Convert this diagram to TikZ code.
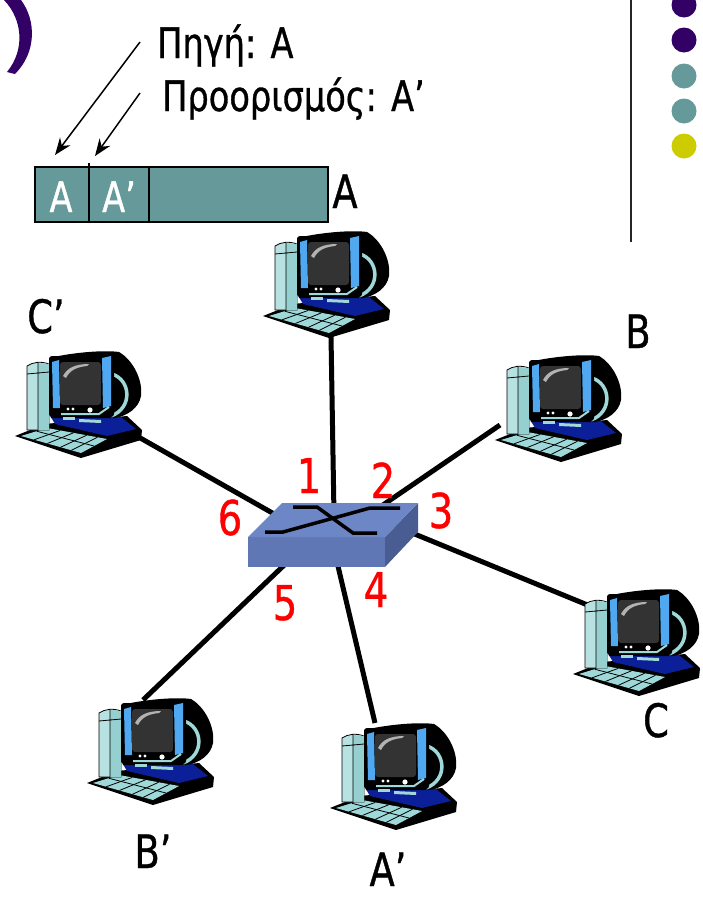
\documentclass[tikz,border=0pt]{standalone}
\usepackage{fontspec}
\setmainfont{DejaVu Sans}[FakeStretch=0.8,FakeBold=0.8]
\usetikzlibrary{arrows.meta,calc}
\definecolor{pur}{HTML}{330066}
\definecolor{tealc}{HTML}{669999}
\definecolor{yel}{HTML}{CCCC00}
\definecolor{swtop}{HTML}{6C86C6}
\definecolor{swfront}{HTML}{5F78B5}
\definecolor{swside}{HTML}{4A5D92}
\definecolor{bezel}{HTML}{4FA8F0}
\definecolor{scr}{HTML}{333333}
\definecolor{cyanl}{HTML}{9ED8D8}
\definecolor{baseb}{HTML}{0B1F99}
\definecolor{tower}{HTML}{B8E2E2}
\tikzset{
  computer/.pic={
    % bottom black base / keyboard outline
    \fill[black] (0,86) -- (30,74) -- (112,66) -- (127,80) -- (126,90) -- (66,108) -- cycle;
    \fill[baseb] (33,62) -- (102,64) -- (121,79) -- (92,86) -- (40,74) -- cycle;
    \fill[cyanl] (6,86) -- (32,78) -- (92,89) -- (66,103) -- cycle;
    \foreach \t in {0.22,0.44,0.66,0.84}
      \draw[black, line width=0.8pt] ($(6,86)!\t!(66,103)$) -- ($(32,78)!\t!(92,89)$);
    \draw[black, line width=0.8pt] ($(6,86)!0.6!(32,78)$) -- ($(66,103)!0.5!(92,89)$);
    % tower
    \filldraw[fill=tower, draw=black, line width=0.8pt] (12,16) -- (12,80) -- (34,80) -- (34,14) .. controls (26,11) and (18,12) .. (12,16) -- cycle;
    \fill[cyanl!85!tealc] (23,13) -- (34,14) -- (34,80) -- (23,80) -- cycle;
    \draw[black, line width=0.8pt] (23,13) -- (23,80) (12,24) -- (34,22);
    % monitor back and neck
    \fill[black] (34,8) .. controls (60,2) and (90,0) .. (104,2) .. controls (118,10) and (128,30) .. (126,46) .. controls (124,58) and (112,66) .. (100,68) -- (36,68) -- cycle;
    \draw[cyanl, line width=3.5pt] (97,24) .. controls (116,30) and (118,58) .. (96,66);
    % monitor front
    \fill[black, rounded corners=3pt] (34,6) rectangle (99,67);
    \fill[bezel] (37,12) -- (44,10) -- (45,58) -- (38,58) -- cycle;
    \fill[bezel] (87,8) -- (96,6) -- (96,56) -- (88,58) -- cycle;
    \fill[scr, rounded corners=3pt] (45,12) rectangle (86,55);
    \fill[gray!60] (48,26) .. controls (52,18) and (60,14) .. (74,14) -- (72,16) .. controls (62,17) and (55,20) .. (51,28) -- cycle;
    \draw[cyanl, line width=2pt] (46,64) -- (84,64) -- (94,57);
    \fill[white] (53,59) circle (1.7) (58,59) circle (1.7) (75,60) circle (2.6);
    \fill[cyanl] (48,67) -- (60,67) -- (60,70) -- (48,70) -- cycle;
    \fill[cyanl] (64,69) -- (86,70) -- (86,73) -- (64,72) -- cycle;
  }
}
\begin{document}
\begin{tikzpicture}[x=1pt,y=-1pt,
  lbl/.style={inner sep=0pt, anchor=base, font=\fontsize{46}{50}\selectfont},
  num/.style={inner sep=0pt, anchor=base, text=red, font=\fontsize{48}{50}\selectfont},
  link/.style={line width=5pt},
  ptr/.style={line width=1.5pt, -{Stealth[length=17pt,width=13pt]}},
  bullet/.style={circle, inner sep=0pt, minimum size=25pt}]
\useasboundingbox (0,0) rectangle (703,897);

% slide decorations
\fill[pur] (4,0) -- (21,0) .. controls (36,20) and (37,52) .. (15,74) -- (7,72) .. controls (25,50) and (23,20) .. (4,0) -- cycle;
\draw[line width=2pt, black!85] (631,0) -- (631,242);
\node[bullet, fill=pur]  (b1) at (684,5) {};
\node[bullet, fill=pur]  (b2) at (684,40) {};
\node[bullet, fill=tealc] (b3) at (684,76) {};
\node[bullet, fill=tealc] (b4) at (684,111) {};
\node[bullet, fill=yel]  (b5) at (684,146) {};

% frame
\node[draw=black, line width=1.5pt, fill=tealc, minimum width=293pt, minimum height=55pt, anchor=north west, inner sep=0pt] (pkt) at (34,166) {};
\draw[line width=1.5pt] (89,163) -- (89,221);
\draw[line width=1.5pt] (149,166) -- (149,221);
\node[lbl, text=white, font=\fontsize{42}{44}\selectfont] (fa) at (61,212) {A};
\node[lbl, text=white, font=\fontsize{42}{44}\selectfont] (fap) at (119,212) {A'};

\node[inner sep=0pt, anchor=base west, font=\fontsize{42}{44}\selectfont] (src) at (157,58) {Πηγή: A};
\node[inner sep=0pt, anchor=base west, font=\fontsize{42}{44}\selectfont] (dst) at (162,111) {Προορισμός: A'};
\coordinate (s1) at (140,42);
\coordinate (t1) at (55,155);
\coordinate (s2) at (140,93);
\coordinate (t2) at (95,156);
\draw[ptr] (s1) -- (t1);
\draw[ptr] (s2) -- (t2);

% connection points
\coordinate (A-port) at (331,336);
\coordinate (B-port) at (500,425);
\coordinate (Cp-port) at (135,435);
\coordinate (C-port) at (590,606);
\coordinate (Ap-port) at (375,723);
\coordinate (Bp-port) at (143,700);
\coordinate (sw1) at (334,515);
\coordinate (sw2) at (380,507);
\coordinate (sw3) at (400,528);
\coordinate (sw4) at (333,545);
\coordinate (sw5) at (300,550);
\coordinate (sw6) at (290,523);
\draw[link] (A-port) -- (sw1);
\draw[link] (B-port) -- (sw2);
\draw[link] (C-port) -- (sw3);
\draw[link] (Ap-port) -- (sw4);
\draw[link] (Bp-port) -- (sw5);
\draw[link] (Cp-port) -- (sw6);

% computers
\pic (A) at (263,230) {computer};
\pic (B) at (495,354) {computer};
\pic (Cp) at (15,350) {computer};
\pic (C) at (573,588) {computer};
\pic (Ap) at (330,722) {computer};
\pic (Bp) at (87,697) {computer};

% switch
\fill[swside] (385,537) -- (418,503) -- (418,532) -- (385,567) -- cycle;
\fill[swfront] (248,537) rectangle (385,567);
\fill[swtop] (282,503) -- (418,503) -- (385,537) -- (248,537) -- cycle;
\draw[line width=3.5pt] (293,507) -- (317,507) -- (353,533) -- (377,533);
\draw[line width=3.5pt] (265,532) -- (283,532) -- (370,508) -- (400,508);

% labels
\node[lbl] (lA) at (345,208) {A};
\node[lbl] (lCp) at (46,333) {C'};
\node[lbl] (lB) at (638,348) {B};
\node[lbl] (lC) at (656,737) {C};
\node[lbl] (lBp) at (153,868) {B'};
\node[lbl] (lAp) at (388,886) {A'};

% port numbers
\node[num] (n1) at (309,493) {1};
\node[num] (n2) at (383,498) {2};
\node[num] (n3) at (441,528) {3};
\node[num] (n4) at (376,607) {4};
\node[num] (n5) at (285,620) {5};
\node[num] (n6) at (230,535) {6};
\end{tikzpicture}
\end{document}
